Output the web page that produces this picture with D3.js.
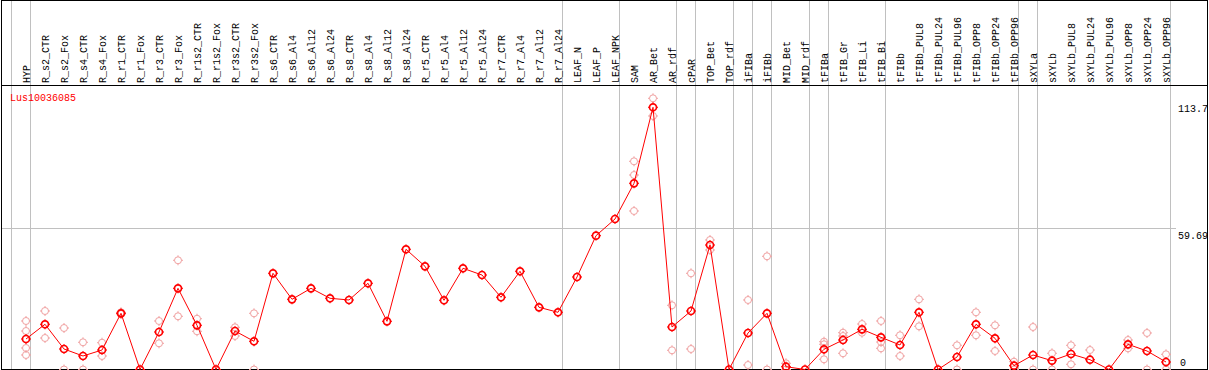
<!DOCTYPE html>
<html>
<head>
<meta charset="utf-8">
<script src="https://cdn.jsdelivr.net/npm/d3@7/dist/d3.min.js"></script>
<style>
  html, body { margin: 0; padding: 0; background: #fff; }
  svg { display: block; }
  text { font-family: "Liberation Mono", "DejaVu Sans Mono", monospace; font-size: 10px; }
</style>
</head>
<body>
<svg id="chart" width="1209" height="370"></svg>
<script>
// ---------------- data ----------------
const title = "Lus10036085";

const categories = [
  "HYP","R_s2_CTR","R_s2_Fox","R_s4_CTR","R_s4_Fox","R_r1_CTR","R_r1_Fox","R_r3_CTR","R_r3_Fox",
  "R_r1s2_CTR","R_r1s2_Fox","R_r3s2_CTR","R_r3s2_Fox",
  "R_s6_CTR","R_s6_Al4","R_s6_Al12","R_s6_Al24",
  "R_s8_CTR","R_s8_Al4","R_s8_Al12","R_s8_Al24",
  "R_r5_CTR","R_r5_Al4","R_r5_Al12","R_r5_Al24",
  "R_r7_CTR","R_r7_Al4","R_r7_Al12","R_r7_Al24",
  "LEAF_N","LEAF_P","LEAF_NPK","SAM","AR_Bet","AR_rdf","cPAR","TOP_Bet","TOP_rdf",
  "iFIBa","iFIBb","MID_Bet","MID_rdf","tFIBa","tFIB_Gr","tFIB_Li","tFIB_Bi","tFIBb",
  "tFIBb_PUL8","tFIBb_PUL24","tFIBb_PUL96","tFIBb_OPP8","tFIBb_OPP24","tFIBb_OPP96",
  "sXYLa","sXYLb","sXYLb_PUL8","sXYLb_PUL24","sXYLb_PUL96","sXYLb_OPP8","sXYLb_OPP24","sXYLb_OPP96"
];

// mean expression per sample (red line)
const means = [
  12.89, 19.11, 8.67, 5.71, 8.24, 23.75, 0, 15.85, 34.32,
  18.68, 0, 16.27, 11.92,
  40.66, 29.67, 34.32, 30.10,
  29.38, 36.44, 20.37, 50.81,
  43.62, 29.25, 42.78, 39.94,
  30.52, 41.51, 26.29, 24.18,
  39.10, 56.56, 63.61, 78.70, 110.83, 17.96, 24.73, 52.62, 0,
  15.43, 23.75, 1.18, 0, 8.54, 12.47, 16.99, 13.61, 10.36,
  24.18, 0, 5.28, 19.11, 13.19, 1.61,
  6.13, 3.72, 6.55, 4.14, 0, 10.65, 7.82, 3.17
];

// individual replicate values (pale circles)
const replicates = [
  [20.50, 16.27, 9.09, 6.13], [24.73, 13.31], [17.54, 0], [11.50, 0], [11.33, 5.71],
  [24.18, 23.46], [], [20.50, 11.07], [46.16, 22.49],
  [21.47, 16.15], [], [17.84, 14.16], [23.75, 0],
  [], [], [], [],
  [], [], [], [],
  [], [], [], [],
  [], [], [], [],
  [], [], [], [88.0, 82.21, 67.0], [114.63, 107.15], [27.14, 8.12], [40.66, 8.67], [54.74, 50.51], [],
  [29.38, 1.90], [47.85, 0], [2.62, 0], [], [11.75, 10.65, 4.31], [15.55, 14.16, 6.85], [19.23, 15.55], [20.50, 11.62, 8.96], [14.46, 5.71],
  [29.67, 18.26], [], [10.23, 0], [24.18, 14.46], [18.68, 7.82], [3.30, 0],
  [17.96, 0], [6.85, 0], [10.23, 2.20], [8.24], [], [12.47, 8.96], [15.43, 0], [6.42, 0]
];

// sample groups are separated after these categories (first separator precedes HYP)
const groupEnds = ["HYP","R_r7_Al24","LEAF_NPK","AR_rdf","cPAR","TOP_rdf","iFIBa","iFIBb",
                   "MID_rdf","tFIBa","tFIB_Bi","tFIBb_OPP96","sXYLa","sXYLb_OPP96"];

const tickValues = [0, 59.69, 113.7];
const tickLabels = ["0", "59.69", "113.7"];

// ---------------- drawing ----------------
const W = 1209, H = 370;
const svg = d3.select("#chart");

const x = d3.scalePoint().domain(categories).range([26, 1166]);
const step = x.step();
const y = d3.scaleLinear().domain([0, 113.7]).range([369.5, 100.5]);

const lineColor = "#ff0000";
const repColor = "#f0a0a0";
const gridColor = "#c0c0c0";

// group separators (vertical gray lines, full height)
const sepX = [x(categories[0]) - step].concat(groupEnds.map(c => x(c)))
  .map(v => Math.floor(v + 4.5) + 0.5);
svg.append("g").selectAll("line").data(sepX).join("line")
  .attr("x1", d => d).attr("x2", d => d)
  .attr("y1", 0).attr("y2", H)
  .attr("stroke", gridColor).attr("stroke-width", 1);

// horizontal gridline at middle tick
svg.append("line")
  .attr("x1", 2).attr("x2", 1176)
  .attr("y1", Math.round(y(59.69)) + 0.5).attr("y2", Math.round(y(59.69)) + 0.5)
  .attr("stroke", gridColor).attr("stroke-width", 1);

// frame and header separator
svg.append("rect").attr("x", 1.5).attr("y", 0.5).attr("width", 1206).attr("height", 369)
  .attr("fill", "none").attr("stroke", "#000").attr("stroke-width", 1);
svg.append("line").attr("x1", 1).attr("x2", 1208).attr("y1", 85.5).attr("y2", 85.5)
  .attr("stroke", "#000").attr("stroke-width", 1);

// column labels (rotated)
svg.append("g").selectAll("text").data(categories).join("text")
  .attr("transform", d => `translate(${x(d) + 3.5},83) rotate(-90)`)
  .attr("text-anchor", "start")
  .attr("fill", "#000")
  .text(d => d);

// title
svg.append("text").attr("x", 10).attr("y", 101).attr("fill", "#ff0000").text(title);

// y tick labels via axis
const axis = d3.axisRight(y).tickValues(tickValues).tickSize(0)
  .tickFormat((d, i) => tickLabels[i]);
const ag = svg.append("g").attr("transform", "translate(1178,0)").call(axis);
ag.select(".domain").remove();
ag.selectAll("text")
  .attr("fill", "#000")
  .style("font-family", '"Liberation Mono", "DejaVu Sans Mono", monospace')
  .style("font-size", "10px")
  .attr("dy", d => d === 0 ? "-4.5" : "10.5")
  .attr("x", d => d === 0 ? 2 : 0);

// marker drawer
function marker(g, color, sw) {
  const r = 3.5;
  g.append("circle").attr("r", r).attr("fill", "none").attr("stroke", color).attr("stroke-width", sw);
  g.append("path")
    .attr("d", `M0,${-r-1.5}V${-r}M0,${r}V${r+1.5}M${-r-1.5},0H${-r}M${r},0H${r+1.5}`)
    .attr("stroke", color).attr("stroke-width", 1).attr("fill", "none");
}

// replicates
const repData = [];
categories.forEach((c, i) => replicates[i].forEach(v => repData.push({c, v})));
svg.append("g").selectAll("g").data(repData).join("g")
  .attr("transform", d => `translate(${x(d.c)},${y(d.v)})`)
  .each(function () { marker(d3.select(this), repColor, 1); });

// mean line
const line = d3.line().x((d, i) => x(categories[i])).y(d => y(d));
svg.append("path").datum(means).attr("d", line)
  .attr("fill", "none").attr("stroke", lineColor).attr("stroke-width", 1);

// mean markers
svg.append("g").selectAll("g").data(means).join("g")
  .attr("transform", (d, i) => `translate(${x(categories[i])},${y(d)})`)
  .each(function () { marker(d3.select(this), lineColor, 1.7); });
</script>
</body>
</html>
